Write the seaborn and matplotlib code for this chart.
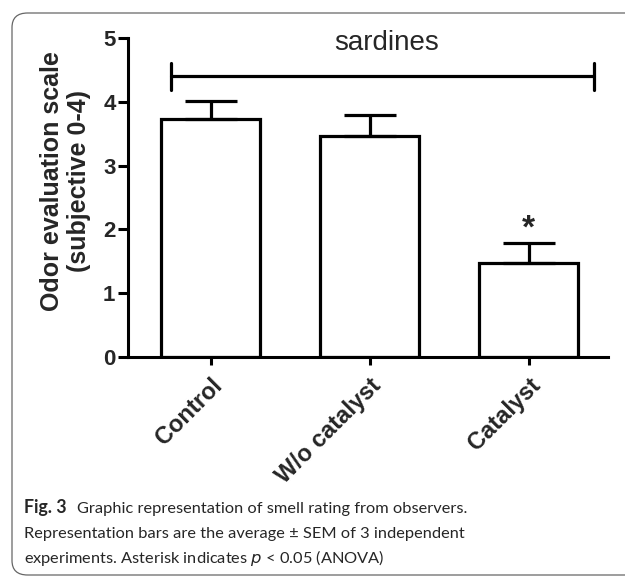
import matplotlib
matplotlib.use("Agg")
import matplotlib.pyplot as plt
import seaborn as sns
import pandas as pd
from matplotlib.patches import FancyBboxPatch

categories = ["Control", "W/o catalyst", "Catalyst"]
means = [3.73, 3.47, 1.48]
sem = [0.28, 0.32, 0.31]
group_label = "sardines"
y_label = "Odor evaluation scale\n(subjective 0-4)"
y_ticks = [0, 1, 2, 3, 4, 5]
caption_head = "Fig. 3"
caption_lines = ["Graphic representation of smell rating from observers.",
                 "Representation bars are the average ± SEM of 3 independent",
                 "experiments. Asterisk indicates $\\it{p}$ < 0.05 (ANOVA)"]

sns.set_theme(style="ticks")
plt.rcParams['font.family'] = ['Liberation Sans', 'DejaVu Sans']

df = pd.DataFrame({"group": categories, "score": means})

W, H = 625, 580
fig = plt.figure(figsize=(W / 100, H / 100), dpi=100)
ax = fig.add_axes([0.2048, 0.3845, 0.768, 0.55])

sns.barplot(data=df, x="group", y="score", ax=ax, color="white",
            edgecolor="black", linewidth=2.3, width=0.62, errorbar=None,
            saturation=1)
xs = list(range(len(categories)))
ax.errorbar(xs, means, yerr=[[0] * len(sem), sem], fmt="none", ecolor="black",
            elinewidth=2.3, capsize=19, capthick=2.3, zorder=1)

ax.set_xlim(-0.52, 2.5)
ax.set_ylim(0, 5)
ax.set_yticks(y_ticks)
ax.set_yticklabels([str(t) for t in y_ticks], fontsize=16, fontweight="bold")
ax.set_xticks(xs)
ax.set_xticklabels(categories, fontsize=17, fontweight="bold", rotation=45,
                   ha="right", rotation_mode="anchor")
ax.set_xlabel("")
ax.set_ylabel("")
for s in ["top", "right"]:
    ax.spines[s].set_visible(False)
for s in ["left", "bottom"]:
    ax.spines[s].set_linewidth(2.2)
    ax.spines[s].set_color("black")
ax.tick_params(axis="y", length=7, width=2.2, color="black", pad=2)
ax.tick_params(axis="x", length=6, width=2.2, color="black", pad=6)

# Y label
fig.text(0.105, 1 - 181 / H, y_label, rotation=90, ha="center", va="center",
         fontsize=18, fontweight="bold", linespacing=1.15)

# bracket with group label
by = 4.40
ax.plot([-0.25, 2.41], [by, by], color="black", lw=2.3, clip_on=False)
ax.plot([-0.25, -0.25], [by - 0.21, by + 0.21], color="black", lw=2.3, clip_on=False)
ax.plot([2.41, 2.41], [by - 0.21, by + 0.21], color="black", lw=2.3, clip_on=False)
ax.text(1.11, 4.92, group_label, ha="center", va="center", fontsize=20, clip_on=False)

# asterisk
ax.text(2, 2.0, "*", ha="center", va="center", fontsize=24, fontweight="bold")

# border
border = FancyBboxPatch((12 / W, 5 / H), 1.2, 1 - 13 / H - 5 / H,
                        boxstyle="round,pad=0,rounding_size=0.025",
                        transform=fig.transFigure, fill=False,
                        edgecolor="#666666", linewidth=0.9, clip_on=False)
fig.add_artist(border)

# caption
cap_fam = ['Lato', 'DejaVu Sans']
cap_size = 11.8
cx = 24 / W
head = fig.text(cx, 1 - 513 / H, caption_head, fontsize=12.8, fontweight="bold",
                family=cap_fam, va="baseline", ha="left")
fig.canvas.draw()
bb = head.get_window_extent(renderer=fig.canvas.get_renderer())
first_x = (bb.x1 + 10) / W
fig.text(first_x, 1 - 513 / H, caption_lines[0],
         fontsize=cap_size, family=cap_fam, va="baseline", ha="left")
fig.text(cx, 1 - 538 / H, caption_lines[1],
         fontsize=cap_size, family=cap_fam, va="baseline", ha="left")
fig.text(cx, 1 - 563 / H, caption_lines[2],
         fontsize=cap_size, family=cap_fam, va="baseline", ha="left")

fig.savefig("out.png", dpi=100)
